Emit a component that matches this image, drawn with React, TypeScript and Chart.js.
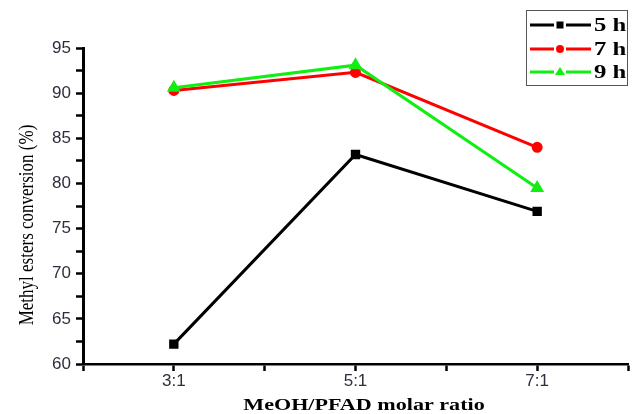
import React, { useEffect, useRef } from "react";
import { Chart, registerables } from "chart.js";

Chart.register(...registerables);

const categories = ["3:1", "5:1", "7:1"];
const ratioValues = [3, 5, 7];
const series5h = [62.2, 83.2, 76.9];
const series7h = [90.3, 92.3, 84.0];
const series9h = [90.6, 93.1, 79.5];
const seriesLabels = ["5 h", "7 h", "9 h"];
const yTickLabels = [60, 65, 70, 75, 80, 85, 90, 95];
const xTitle = "MeOH/PFAD molar ratio";
const yTitle = "Methyl esters conversion (%)";

const W = 636;
const H = 414;

const textPlugin = {
  id: "customText",
  afterDraw(chart: any) {
    const ctx = chart.ctx;
    // Y title
    ctx.save();
    ctx.fillStyle = "#000";
    ctx.translate(28, 225);
    ctx.rotate(-Math.PI / 2);
    ctx.scale(1, 1.2);
    ctx.font = '17px "Liberation Serif"';
    ctx.textAlign = "center";
    ctx.textBaseline = "middle";
    ctx.fillText(yTitle, 0, 0);
    ctx.restore();
    // X title
    ctx.save();
    ctx.fillStyle = "#000";
    ctx.translate(364, 406);
    ctx.scale(1.3, 1);
    ctx.font = 'bold 17px "Liberation Serif"';
    ctx.textAlign = "center";
    ctx.textBaseline = "middle";
    ctx.fillText(xTitle, 0, 0);
    ctx.restore();

    // Legend
    const bx = 526.5, by = 10.5, bw = 101, bh = 75;
    ctx.save();
    ctx.strokeStyle = "#555";
    ctx.lineWidth = 1;
    ctx.strokeRect(bx, by, bw, bh);
    const rows = [25, 49, 72];
    chart.data.datasets.forEach((ds: any, i: number) => {
      const y = rows[i];
      ctx.strokeStyle = ds.borderColor;
      ctx.lineWidth = 3;
      ctx.beginPath();
      ctx.moveTo(530, y);
      ctx.lineTo(554, y);
      ctx.moveTo(566, y);
      ctx.lineTo(591, y);
      ctx.stroke();
      ctx.fillStyle = ds.borderColor;
      const cx = 560;
      ctx.beginPath();
      if (ds.pointStyle === "rect") {
        ctx.fillRect(cx - 3.5, y - 3.5, 7, 7);
      } else if (ds.pointStyle === "circle") {
        ctx.arc(cx, y, 4, 0, Math.PI * 2);
        ctx.fill();
      } else {
        ctx.moveTo(cx, y - 5);
        ctx.lineTo(cx + 5, y + 3);
        ctx.lineTo(cx - 5, y + 3);
        ctx.closePath();
        ctx.fill();
      }
      ctx.save();
      ctx.translate(594, y + 1);
      ctx.scale(1.3, 1);
      ctx.fillStyle = "#000";
      ctx.font = 'bold 19px "Liberation Serif"';
      ctx.textAlign = "left";
      ctx.textBaseline = "middle";
      ctx.fillText(ds.label, 0, 0);
      ctx.restore();
    });
    ctx.restore();
  },
};

export default function App() {
  const ref = useRef<HTMLCanvasElement>(null);
  useEffect(() => {
    if (!ref.current) return;
    const mk = (vals: number[]) => vals.map((v, i) => ({ x: ratioValues[i], y: v }));
    const chart = new Chart(ref.current, {
      type: "line",
      data: {
        datasets: [
          {
            label: seriesLabels[0],
            data: mk(series5h),
            borderColor: "#000000",
            backgroundColor: "#000000",
            borderWidth: 3,
            pointStyle: "rect",
            pointRadius: 4.5,
            order: 0,
          },
          {
            label: seriesLabels[1],
            data: mk(series7h),
            borderColor: "#ff0000",
            backgroundColor: "#ff0000",
            borderWidth: 3,
            pointStyle: "circle",
            pointRadius: 4,
            order: 2,
          },
          {
            label: seriesLabels[2],
            data: mk(series9h),
            borderColor: "#11ee11",
            backgroundColor: "#11ee11",
            borderWidth: 3,
            pointStyle: "triangle",
            pointRadius: 5,
            order: 1,
          },
        ] as any,
      },
      options: {
        responsive: false,
        animation: false,
        layout: { padding: { top: 48, right: 8, left: 0, bottom: 0 } },
        plugins: { legend: { display: false }, tooltip: { enabled: false } },
        scales: {
          x: {
            type: "linear",
            min: 2,
            max: 8,
            afterFit: (s: any) => {
              s.height = 50;
            },
            border: { display: true, color: "#000", width: 2.5 },
            grid: {
              display: true,
              drawOnChartArea: false,
              drawTicks: true,
              tickLength: 7,
              tickWidth: 2.5,
              tickColor: "#000",
            },
            ticks: {
              stepSize: 1,
              autoSkip: false,
              maxRotation: 0,
              padding: 0,
              color: "#2e2e3e",
              font: { family: '"Liberation Sans"', size: 17 },
              callback: (v: any) => {
                const idx = ratioValues.indexOf(Number(v));
                return idx >= 0 ? categories[idx] : "";
              },
            },
          },
          y: {
            type: "linear",
            min: 60,
            max: 95,
            afterFit: (s: any) => {
              s.width = 83;
            },
            border: { display: true, color: "#000", width: 3 },
            grid: {
              display: true,
              drawOnChartArea: false,
              drawTicks: true,
              tickLength: 7,
              tickWidth: 2.5,
              tickColor: "#000",
            },
            ticks: {
              stepSize: 2.5,
              autoSkip: false,
              padding: 5,
              color: "#2e2e3e",
              font: { family: '"Liberation Sans"', size: 17 },
              callback: (v: any) => (yTickLabels.includes(Number(v)) ? String(v) : ""),
            },
          },
        },
      },
      plugins: [textPlugin],
    });
    return () => chart.destroy();
  }, []);
  return (
    <div style={{ position: "fixed", left: 0, top: 0, width: W, height: H, background: "#fff" }}>
      <canvas ref={ref} width={W} height={H} style={{ display: "block" }} />
    </div>
  );
}
